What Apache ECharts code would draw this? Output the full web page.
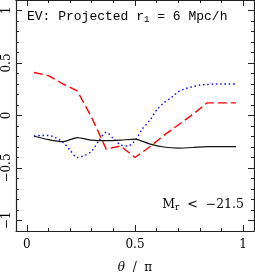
<!DOCTYPE html>
<html><head><meta charset="utf-8">
<script src="https://cdn.jsdelivr.net/npm/echarts@6/dist/echarts.min.js"></script>
<style>html,body{margin:0;padding:0;background:#fff}#c{width:255px;height:279px}</style>
</head><body><div id="c"></div>
<script>
const thetaBins = [0.033,0.1,0.167,0.233,0.3,0.367,0.433,0.5,0.567,0.633,0.7,0.767,0.833,0.9,0.967];
const redValues = [0.41,0.38,0.30,0.235,-0.02,-0.32,-0.29,-0.40,-0.30,-0.19,-0.09,0.01,0.12,0.12,0.12];
const blackValues = [-0.195,-0.23,-0.25,-0.21,-0.235,-0.24,-0.235,-0.225,-0.27,-0.30,-0.31,-0.305,-0.297,-0.297,-0.297];
const blueTheta = [0.033,0.067,0.1,0.133,0.167,0.2,0.233,0.267,0.3,0.333,0.367,0.4,0.433,0.467,0.5,0.533,0.567,0.6,0.633,0.667,0.7,0.733,0.767,0.8,0.833,0.867,0.9,0.933,0.967];
const blueValues = [-0.195,-0.19,-0.19,-0.21,-0.255,-0.33,-0.40,-0.38,-0.34,-0.24,-0.16,-0.22,-0.28,-0.29,-0.24,-0.13,-0.05,0.05,0.12,0.17,0.225,0.255,0.275,0.29,0.295,0.30,0.30,0.30,0.30];
const xMajorTicks = [0,0.5,1];
const xMinorTicks = [0,0.1,0.2,0.3,0.4,0.5,0.6,0.7,0.8,0.9,1.0];
const yMajorTicks = [-1,-0.5,0,0.5,1];
const yMinorTicks = [-1,-0.9,-0.8,-0.7,-0.6,-0.5,-0.4,-0.3,-0.2,-0.1,0,0.1,0.2,0.3,0.4,0.5,0.6,0.7,0.8,0.9,1];

const pair = (xs, ys) => xs.map((x, i) => [x, ys[i]]);
const fmt = v => (v < 0 ? '\u2212' + Math.abs(v) : String(v));
const lineC = '#222';
const serif = '"DejaVu Serif", "Liberation Serif", serif';
const mono = '"Liberation Mono", "DejaVu Sans Mono", monospace';

function xAx(pos, ticks, len, withLine, withLabel) {
  return {
    type: 'value', position: pos, min: -0.05, max: 1.05,
    axisLine: {show: withLine, onZero: false, lineStyle: {color: lineC, width: 1.2}},
    axisTick: {show: true, inside: true, length: len, customValues: ticks, lineStyle: {color: lineC, width: 1}},
    axisLabel: withLabel ? {show: true, customValues: xMajorTicks, formatter: fmt, color: '#000', fontFamily: serif, fontSize: 12, margin: 8} : {show: false},
    splitLine: {show: false},
    name: withLabel ? '{i|\u03b8}  /  \u03c0' : '',
    nameLocation: 'middle', nameGap: 31,
    nameTextStyle: {color: '#000', fontFamily: serif, fontSize: 12, rich: {i: {fontStyle: 'italic', fontFamily: serif, fontSize: 12, color: '#000'}}}
  };
}
function yAx(pos, ticks, len, withLine, withLabel) {
  return {
    type: 'value', position: pos, min: -1.1, max: 1.1,
    axisLine: {show: withLine, onZero: false, lineStyle: {color: lineC, width: 1.2}},
    axisTick: {show: true, inside: true, length: len, customValues: ticks, lineStyle: {color: lineC, width: 1}},
    axisLabel: withLabel ? {show: true, customValues: yMajorTicks, formatter: fmt, rotate: 90, color: '#000', fontFamily: serif, fontSize: 12, margin: 3} : {show: false},
    splitLine: {show: false}
  };
}

const chart = echarts.init(document.getElementById('c'), null, {renderer: 'canvas'});
chart.setOption({
  animation: false,
  backgroundColor: '#fff',
  grid: {left: 16, right: 1, top: 0, bottom: 41},
  xAxis: [
    xAx('bottom', xMajorTicks, 6, true, true),
    xAx('bottom', xMinorTicks, 3, false, false),
    xAx('top', xMajorTicks, 6, true, false),
    xAx('top', xMinorTicks, 3, false, false)
  ],
  yAxis: [
    yAx('left', yMajorTicks, 6, true, true),
    yAx('left', yMinorTicks, 3, false, false),
    yAx('right', yMajorTicks, 6, true, false),
    yAx('right', yMinorTicks, 3, false, false)
  ],
  series: [
    {type: 'line', data: pair(thetaBins, redValues), showSymbol: false, lineStyle: {color: '#ff0000', width: 1.4, type: [9, 4]}},
    {type: 'line', data: pair(blueTheta, blueValues), showSymbol: false, smooth: 0.3, lineStyle: {color: '#0000ff', width: 1.4, type: [1.5, 2.8]}},
    {type: 'line', data: pair(thetaBins, blackValues), showSymbol: false, smooth: 0.2, lineStyle: {color: '#111', width: 1.2}}
  ],
  graphic: [
    {type: 'text', left: 27, top: 10, style: {
      text: '{a|EV: Projected r}{s|1}{a| = 6 Mpc/h}',
      rich: {
        a: {fontFamily: mono, fontSize: 13, fill: '#000'},
        s: {fontFamily: mono, fontSize: 9, fill: '#000', padding: [7, 0, 0, 0]}
      }}},
    {type: 'text', right: 11, top: 198, style: {
      text: '{a|M}{s|r}{a|  <  \u221221.5}',
      rich: {
        a: {fontFamily: serif, fontSize: 12.5, fill: '#000'},
        s: {fontFamily: serif, fontSize: 9, fill: '#000', padding: [7, 0, 0, 0]}
      }}}
  ]
});
</script></body></html>
